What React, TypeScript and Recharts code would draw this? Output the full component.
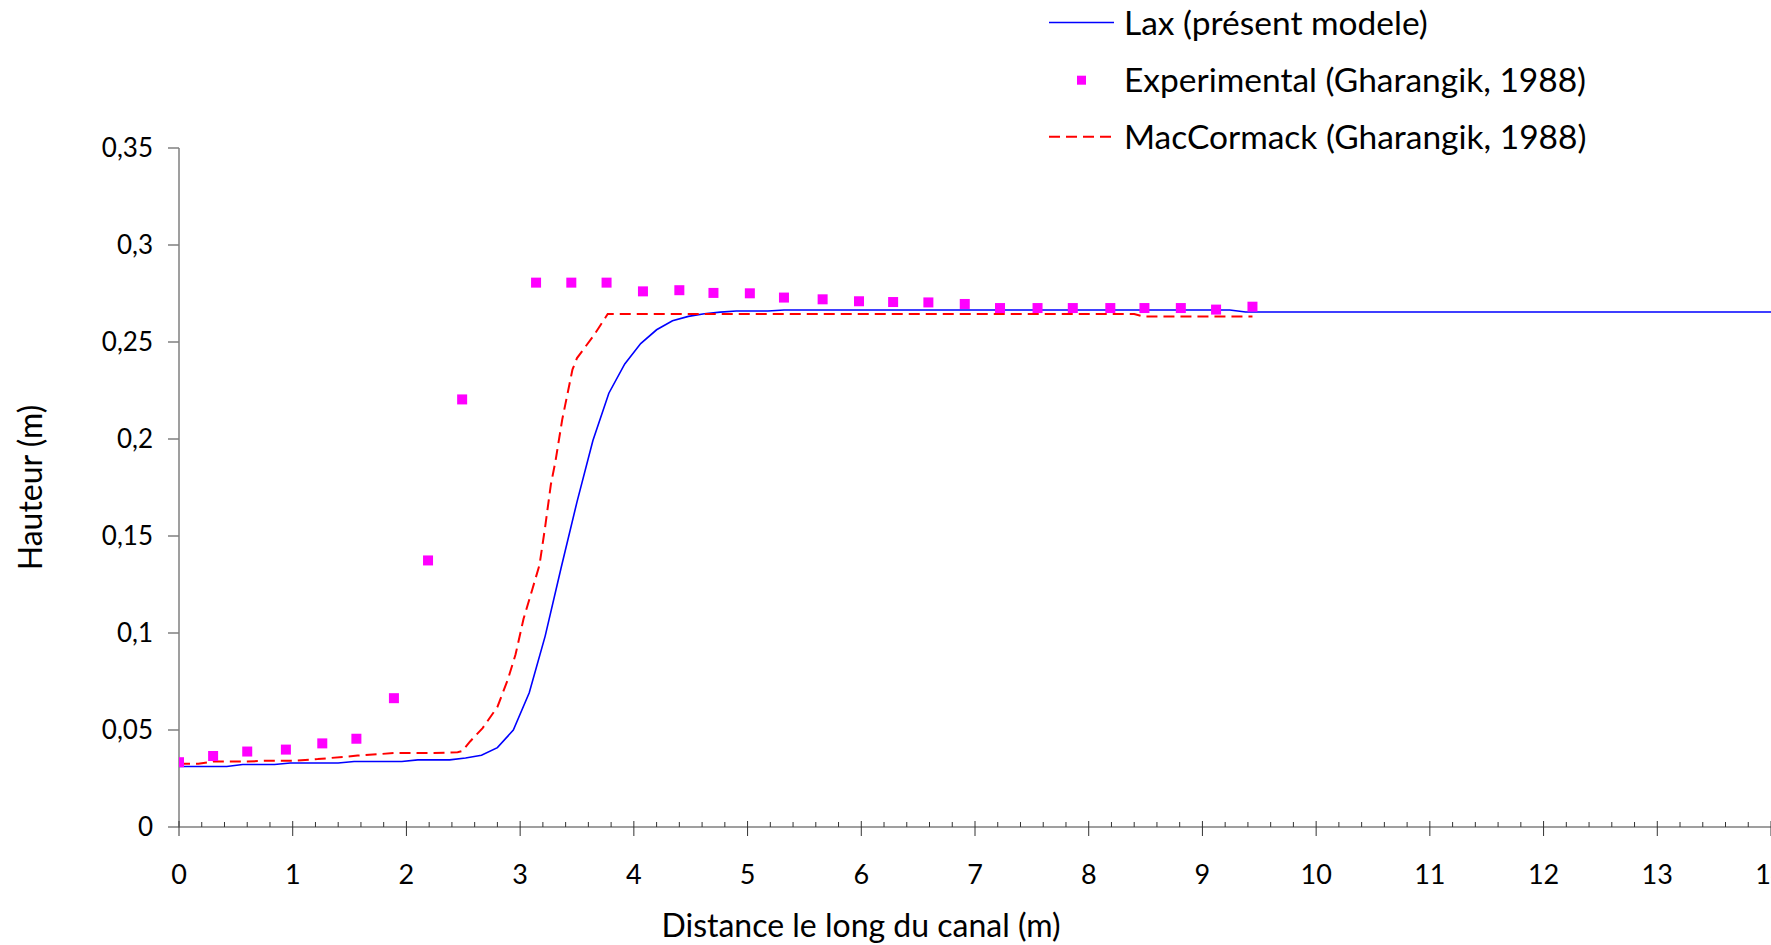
import React from "react"
import {
  ComposedChart,
  Line,
  Scatter,
  XAxis,
  YAxis,
  Legend,
  Label
} from "recharts"

// Lax (présent modele)
const LAX_X = [0, 0.42, 0.56, 0.84, 0.98, 1.4, 1.54, 1.96, 2.1, 2.38, 2.52, 2.66, 2.8, 2.94, 3.08, 3.22, 3.36, 3.5, 3.64, 3.78, 3.92, 4.06, 4.2, 4.34, 4.48, 4.62, 4.76, 4.9, 5.18, 5.32, 9.24, 9.38, 14]
const LAX_Y = [0.0312, 0.0312, 0.0322, 0.0322, 0.033, 0.033, 0.0338, 0.0338, 0.0346, 0.0346, 0.0356, 0.037, 0.0409, 0.05, 0.0692, 0.0984, 0.1335, 0.1676, 0.1992, 0.2236, 0.2387, 0.2492, 0.2563, 0.2609, 0.2632, 0.2646, 0.2654, 0.266, 0.266, 0.2665, 0.2665, 0.2655, 0.2655]

// Experimental (Gharangik, 1988)
const EXP_X = [0, 0.3, 0.6, 0.94, 1.26, 1.56, 1.89, 2.19, 2.49, 3.14, 3.45, 3.76, 4.08, 4.4, 4.7, 5.02, 5.32, 5.66, 5.98, 6.28, 6.59, 6.91, 7.22, 7.55, 7.86, 8.19, 8.49, 8.81, 9.12, 9.44]
const EXP_Y = [0.0334, 0.0366, 0.0389, 0.0399, 0.0431, 0.0455, 0.0664, 0.1374, 0.2204, 0.2806, 0.2806, 0.2806, 0.2761, 0.2767, 0.2753, 0.2751, 0.2729, 0.272, 0.271, 0.2706, 0.2704, 0.2696, 0.2675, 0.2675, 0.2675, 0.2675, 0.2675, 0.2675, 0.2667, 0.2682]

// MacCormack (Gharangik, 1988)
const MAC_X = [0, 0.17, 0.31, 0.6, 0.8, 1.01, 1.22, 1.57, 1.89, 2.24, 2.45, 2.49, 2.56, 2.67, 2.8, 2.89, 2.96, 3.03, 3.11, 3.17, 3.22, 3.27, 3.31, 3.37, 3.46, 3.5, 3.65, 3.77, 8.4, 8.48, 9.44]
const MAC_Y = [0.0326, 0.0326, 0.0338, 0.0338, 0.0342, 0.0342, 0.035, 0.0368, 0.0381, 0.0381, 0.0385, 0.0391, 0.0441, 0.051, 0.0619, 0.0757, 0.089, 0.1073, 0.1231, 0.135, 0.1547, 0.1765, 0.1883, 0.21, 0.2358, 0.2417, 0.2536, 0.2644, 0.2644, 0.2632, 0.2632]

const Y_TICKS = [0, 0.05, 0.1, 0.15, 0.2, 0.25, 0.3, 0.35]
const X_MAJOR = [0, 1, 2, 3, 4, 5, 6, 7, 8, 9, 10, 11, 12, 13, 14]
// petites graduations tous les 0,2 m
const X_TICKS = X_MAJOR.slice(0, -1).flatMap(v => [v, v + 0.2, v + 0.4, v + 0.6, v + 0.8]).concat([14])

const LEGEND = [
  { name: "Lax (présent modele)", kind: "line" },
  { name: "Experimental (Gharangik, 1988)", kind: "square" },
  { name: "MacCormack (Gharangik, 1988)", kind: "dash" }
]

const zip = (xs: number[], ys: number[]) => xs.map((x, i) => ({ x, y: ys[i] }))
const laxData = zip(LAX_X, LAX_Y)
const expData = zip(EXP_X, EXP_Y)
const macData = zip(MAC_X, MAC_Y)

const FONT = "Lato, 'Open Sans', sans-serif"
const AXIS_GREY = "#7f7f7f"

function XTick(props: any) {
  const { x, y, payload } = props
  const v = payload.value
  const major = Math.abs(v - Math.round(v)) < 1e-6
  return (
    <g>
      {major
        ? <line x1={x} x2={x} y1={y - 6} y2={y + 9} stroke="#333" strokeWidth={1} />
        : <line x1={x} x2={x} y1={y - 5} y2={y} stroke="#333" strokeWidth={1} />}
      {major && (
        <text x={x} y={y + 57} textAnchor="middle" fontFamily={FONT} fontSize={27} fill="#000">
          {Math.round(v)}
        </text>
      )}
    </g>
  )
}

function renderLegend() {
  const rows = [22.6, 80.2, 136.7]
  return (
    <svg width={640} height={165} style={{ display: "block" }}>
      {LEGEND.map((item, i) => {
        const cy = rows[i]
        return (
          <g key={item.name}>
            {item.kind === "line" && <line x1={0} x2={65} y1={cy} y2={cy} stroke="#0000ff" strokeWidth={1.5} />}
            {item.kind === "dash" && <line x1={0} x2={65} y1={cy} y2={cy} stroke="#ff0000" strokeWidth={2} strokeDasharray="11 6" />}
            {item.kind === "square" && <rect x={28} y={cy - 4.5} width={9} height={9} fill="#ff00ff" />}
            <text x={75} y={cy} dy="0.36em" fontFamily={FONT} fontSize={33.5} fill="#000">{item.name}</text>
          </g>
        )
      })}
    </svg>
  )
}

export default function App() {
  return (
    <div style={{ position: "absolute", left: 0, top: 0, width: 1771, height: 945, overflow: "hidden", background: "#fff" }}>
      <ComposedChart width={1771} height={945} margin={{ top: 148, right: 0, left: 0, bottom: 0 }}>
        <XAxis
          dataKey="x"
          type="number"
          domain={[0, 14]}
          ticks={X_TICKS}
          interval={0}
          allowDataOverflow
          height={118}
          tickSize={0}
          tickMargin={0}
          tickLine={false}
          tick={<XTick />}
          axisLine={{ stroke: AXIS_GREY, strokeWidth: 1.5 }}
        >
          <Label
            value="Distance le long du canal (m)"
            position="insideBottom"
            offset={8}
            dx={-114}
            style={{ fontFamily: FONT, fontSize: 32, fill: "#000" }}
          />
        </XAxis>
        <YAxis
          dataKey="y"
          type="number"
          domain={[0, 0.35]}
          ticks={Y_TICKS}
          interval={0}
          width={179}
          tickSize={11}
          tickMargin={15}
          tickLine={{ stroke: AXIS_GREY, strokeWidth: 1.5 }}
          axisLine={{ stroke: AXIS_GREY, strokeWidth: 1.5 }}
          tick={{ fontFamily: FONT, fontSize: 26, fill: "#000" }}
          tickFormatter={(v: number) => String(v).replace(".", ",")}
        >
          <Label
            value="Hauteur (m)"
            angle={-90}
            position="insideLeft"
            offset={31}
            style={{ fontFamily: FONT, fontSize: 32, fill: "#000", textAnchor: "middle" }}
          />
        </YAxis>
        <Legend
          layout="vertical"
          align="center"
          verticalAlign="middle"
          content={renderLegend}
          wrapperStyle={{ position: "absolute", left: 1049, top: 0, width: 640, height: 165 }}
        />
        <Line
          data={laxData}
          dataKey="y"
          type="linear"
          stroke="#0000ff"
          strokeWidth={1.6}
          dot={false}
          activeDot={false}
          isAnimationActive={false}
          name="Lax (présent modele)"
        />
        <Line
          data={macData}
          dataKey="y"
          type="linear"
          stroke="#ff0000"
          strokeWidth={2}
          strokeDasharray="11 6"
          dot={false}
          activeDot={false}
          isAnimationActive={false}
          name="MacCormack (Gharangik, 1988)"
        />
        <Scatter
          data={expData}
          dataKey="y"
          fill="#ff00ff"
          isAnimationActive={false}
          name="Experimental (Gharangik, 1988)"
          shape={(p: any) => <rect x={p.cx - 5} y={p.cy - 5} width={10} height={10} fill="#ff00ff" />}
        />
      </ComposedChart>
    </div>
  )
}
